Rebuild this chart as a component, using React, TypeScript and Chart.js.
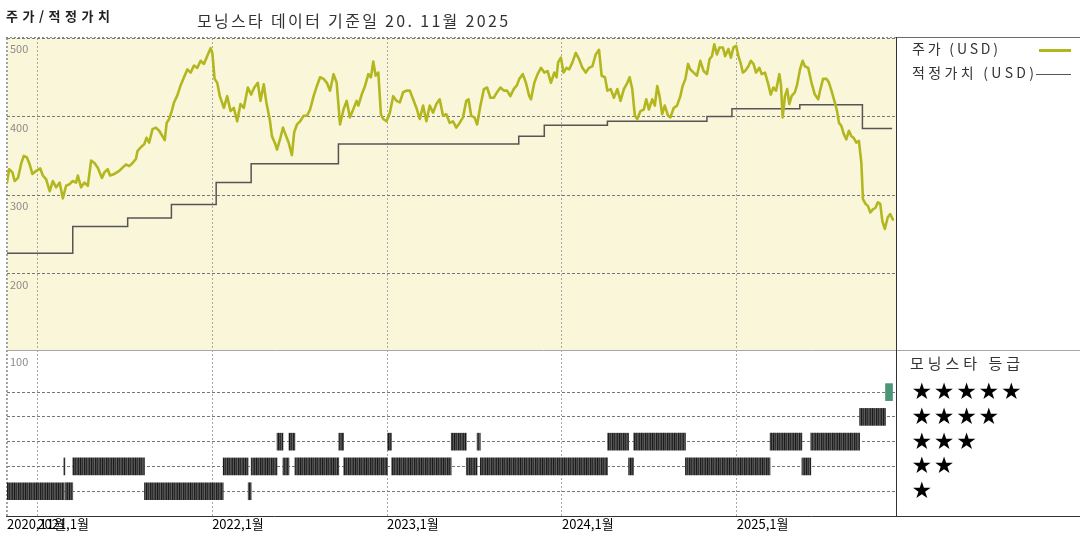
import React, { useEffect, useRef } from 'react';
import { Chart, registerables } from 'chart.js';

Chart.register(...registerables);

// ---------- axes ----------
const X_MIN = 2020.827;
const X_MAX = 2025.91;
const PRICE_MIN = 103;
const PRICE_MAX = 500;
const RATING_MIN = 0;
const RATING_MAX = 6.7;

const xTickValues = [2020.827, 2021, 2022, 2023, 2024, 2025];
const xTickLabels = ['2020,11월', '2021,1월', '2022,1월', '2023,1월', '2024,1월', '2025,1월'];
const priceTickValues = [200, 300, 400, 500];
const ratingRowValues = [1, 2, 3, 4, 5];
const ratingTopLabel = '100';

// ---------- texts ----------
const titleLeft = '주가/적정가치';
const titleMain = '모닝스타 데이터 기준일 20. 11월 2025';
const legendPrice = '주가 (USD)';
const legendFair = '적정가치 (USD)';
const ratingTitle = '모닝스타 등급';

// ---------- price (USD) ----------
const priceDates = [
  2020.827, 2020.839, 2020.858, 2020.871, 2020.890, 2020.909, 2020.923, 2020.941, 2020.957, 2020.972,
  2020.994, 2021.017, 2021.032, 2021.051, 2021.071, 2021.089, 2021.108, 2021.128, 2021.146, 2021.165,
  2021.185, 2021.203, 2021.222, 2021.232, 2021.251, 2021.270, 2021.289, 2021.308, 2021.327, 2021.346,
  2021.370, 2021.384, 2021.403, 2021.416, 2021.441, 2021.469, 2021.488, 2021.507, 2021.526, 2021.545,
  2021.564, 2021.573, 2021.592, 2021.612, 2021.625, 2021.640, 2021.659, 2021.678, 2021.697, 2021.716,
  2021.729, 2021.740, 2021.754, 2021.769, 2021.782, 2021.801, 2021.820, 2021.839, 2021.858, 2021.877,
  2021.896, 2021.915, 2021.934, 2021.953, 2021.972, 2021.991, 2022.001, 2022.014, 2022.029, 2022.044,
  2022.067, 2022.086, 2022.105, 2022.124, 2022.143, 2022.162, 2022.181, 2022.204, 2022.223, 2022.241,
  2022.261, 2022.276, 2022.295, 2022.310, 2022.329, 2022.342, 2022.361, 2022.371, 2022.390, 2022.405,
  2022.418, 2022.437, 2022.456, 2022.469, 2022.485, 2022.503, 2022.523, 2022.542, 2022.560, 2022.580,
  2022.599, 2022.617, 2022.637, 2022.656, 2022.674, 2022.694, 2022.712, 2022.731, 2022.751, 2022.769,
  2022.788, 2022.808, 2022.826, 2022.836, 2022.855, 2022.874, 2022.893, 2022.908, 2022.921, 2022.935,
  2022.950, 2022.965, 2022.978, 2022.997, 2023.016, 2023.035, 2023.054, 2023.073, 2023.092, 2023.111,
  2023.130, 2023.149, 2023.168, 2023.187, 2023.206, 2023.225, 2023.244, 2023.263, 2023.282, 2023.301,
  2023.320, 2023.339, 2023.358, 2023.377, 2023.396, 2023.415, 2023.434, 2023.453, 2023.466, 2023.481,
  2023.500, 2023.515, 2023.534, 2023.554, 2023.572, 2023.591, 2023.611, 2023.629, 2023.648, 2023.668,
  2023.686, 2023.705, 2023.724, 2023.743, 2023.756, 2023.776, 2023.794, 2023.813, 2023.823, 2023.842,
  2023.861, 2023.880, 2023.899, 2023.918, 2023.937, 2023.956, 2023.969, 2023.978, 2023.994, 2024.009,
  2024.026, 2024.041, 2024.060, 2024.079, 2024.098, 2024.117, 2024.136, 2024.155, 2024.174, 2024.193,
  2024.212, 2024.227, 2024.246, 2024.260, 2024.279, 2024.297, 2024.317, 2024.335, 2024.354, 2024.374,
  2024.387, 2024.402, 2024.417, 2024.431, 2024.449, 2024.468, 2024.482, 2024.497, 2024.516, 2024.531,
  2024.545, 2024.558, 2024.573, 2024.588, 2024.607, 2024.620, 2024.639, 2024.658, 2024.677, 2024.690,
  2024.706, 2024.721, 2024.734, 2024.753, 2024.772, 2024.791, 2024.810, 2024.829, 2024.844, 2024.858,
  2024.871, 2024.886, 2024.901, 2024.920, 2024.933, 2024.952, 2024.966, 2024.981, 2024.996, 2025.009,
  2025.023, 2025.034, 2025.047, 2025.066, 2025.080, 2025.095, 2025.110, 2025.129, 2025.142, 2025.161,
  2025.180, 2025.194, 2025.209, 2025.224, 2025.243, 2025.252, 2025.262, 2025.275, 2025.288, 2025.300,
  2025.313, 2025.332, 2025.345, 2025.361, 2025.376, 2025.389, 2025.408, 2025.427, 2025.446, 2025.465,
  2025.478, 2025.493, 2025.513, 2025.527, 2025.541, 2025.560, 2025.573, 2025.584, 2025.598, 2025.611,
  2025.626, 2025.641, 2025.655, 2025.668, 2025.683, 2025.698, 2025.712, 2025.721, 2025.736, 2025.750,
  2025.763, 2025.778, 2025.793, 2025.806, 2025.820, 2025.832, 2025.846, 2025.863, 2025.877, 2025.892,
];
const priceValues = [
  316, 333, 329, 318, 322, 341, 350, 348, 339, 327,
  331, 334, 325, 320, 305, 318, 310, 316, 296, 312,
  314, 318, 316, 325, 310, 316, 312, 344, 341, 335,
  322, 329, 333, 325, 327, 331, 335, 339, 337, 341,
  346, 356, 361, 365, 373, 367, 384, 386, 382, 375,
  370, 392, 397, 407, 418, 427, 440, 450, 460, 456,
  465, 462, 471, 467, 477, 487, 481, 448, 443, 426,
  411, 426, 407, 411, 394, 416, 411, 437, 428, 437,
  443, 420, 441, 418, 397, 375, 365, 358, 373, 386,
  378, 367, 351, 380, 390, 394, 401, 401, 409, 426,
  439, 450, 448, 443, 433, 454, 443, 390, 409, 420,
  399, 410, 420, 414, 428, 439, 454, 450, 470, 452,
  456, 403, 397, 394, 405, 426, 420, 418, 431, 433,
  433, 422, 411, 397, 414, 394, 414, 405, 416, 422,
  401, 403, 392, 394, 386, 392, 399, 420, 422, 401,
  399, 390, 414, 435, 437, 424, 424, 431, 437, 433,
  433, 426, 435, 440, 448, 454, 443, 426, 422, 443,
  454, 462, 456, 458, 443, 456, 450, 469, 475, 456,
  462, 460, 469, 481, 473, 462, 456, 462, 464, 479,
  485, 452, 450, 433, 435, 424, 435, 420, 435, 443,
  450, 435, 401, 397, 407, 409, 422, 409, 422, 414,
  439, 426, 403, 414, 401, 399, 411, 414, 426, 439,
  448, 467, 460, 456, 452, 471, 458, 454, 473, 477,
  492, 479, 488, 488, 477, 486, 475, 488, 490, 477,
  467, 456, 458, 464, 471, 467, 456, 462, 454, 456,
  441, 428, 437, 433, 454, 441, 399, 426, 435, 416,
  426, 431, 441, 460, 471, 464, 462, 443, 428, 422,
  435, 448, 448, 443, 433, 418, 407, 392, 388, 378,
  371, 382, 375, 373, 367, 369, 341, 295, 289, 286,
  278, 282, 284, 291, 289, 267, 257, 272, 276, 269,
];

// ---------- fair value (USD), step starts ----------
const fairDates = [
  2020.827, 2021.203, 2021.517, 2021.767, 2022.023, 2022.223, 2022.722, 2023.753,
  2023.899, 2024.260, 2024.829, 2024.972, 2025.360, 2025.718, 2025.888,
];
const fairValues = [226, 260, 271, 288, 316, 340, 365, 375, 389, 394, 400, 410, 415, 385, 385];

// ---------- Morningstar rating: change dates and star level per span ----------
const ratingDates = [
  2020.827, 2021.152, 2021.158, 2021.203, 2021.613, 2022.063, 2022.206, 2022.223, 2022.371, 2022.405,
  2022.439, 2022.473, 2022.724, 2022.752, 2023.003, 2023.026, 2023.367, 2023.453, 2023.515, 2023.533,
  2024.261, 2024.381, 2024.410, 2024.706, 2025.190, 2025.372, 2025.423, 2025.702, 2025.850, 2025.890,
];
const ratingLevels = [
  1, 2, 1, 2, 1, 2, 1, 2, 3, 2,
  3, 2, 3, 2, 3, 2, 3, 2, 3, 2,
  3, 2, 3, 2, 3, 2, 3, 4, 5,
];

// ---------- styles ----------
const FONT = '"Noto Sans CJK KR", "Noto Sans", "DejaVu Sans", sans-serif';
const PRICE_COLOR = '#b3b71f';
const FAIR_COLOR = '#555555';
const PANEL_BG = '#faf6da';
const FIVE_STAR_COLOR = '#4b9579';

function drawText(
  ctx: CanvasRenderingContext2D,
  text: string,
  x: number,
  y: number,
  font: string,
  color: string,
  width?: number
) {
  ctx.save();
  ctx.font = font;
  ctx.fillStyle = color;
  ctx.textAlign = 'left';
  ctx.textBaseline = 'middle';
  if (width) {
    const w = ctx.measureText(text).width;
    const n = Array.from(text).length;
    if (n > 1) (ctx as any).letterSpacing = ((width - w) / (n - 1)).toFixed(2) + 'px';
  }
  ctx.fillText(text, x, y);
  ctx.restore();
}

function hline(ctx: CanvasRenderingContext2D, x1: number, x2: number, y: number, color: string, w = 1, dash: number[] = []) {
  ctx.save();
  ctx.strokeStyle = color;
  ctx.lineWidth = w;
  ctx.setLineDash(dash);
  ctx.beginPath();
  const yy = Math.round(y) + (w % 2 ? 0.5 : 0);
  ctx.moveTo(x1, yy);
  ctx.lineTo(x2, yy);
  ctx.stroke();
  ctx.restore();
}

function vline(ctx: CanvasRenderingContext2D, x: number, y1: number, y2: number, color: string, w = 1, dash: number[] = []) {
  ctx.save();
  ctx.strokeStyle = color;
  ctx.lineWidth = w;
  ctx.setLineDash(dash);
  ctx.beginPath();
  const xx = Math.round(x) + (w % 2 ? 0.5 : 0);
  ctx.moveTo(xx, y1);
  ctx.lineTo(xx, y2);
  ctx.stroke();
  ctx.restore();
}

const decoPlugin = {
  id: 'deco',
  beforeDraw(chart: any) {
    const { ctx, chartArea } = chart;
    const ys = chart.scales.y;
    ctx.save();
    ctx.fillStyle = PANEL_BG;
    ctx.fillRect(chartArea.left, ys.top, chartArea.right - chartArea.left, ys.bottom - ys.top);
    ctx.restore();
  },
  afterDraw(chart: any) {
    const { ctx, chartArea, width } = chart;
    const { left, right, top, bottom } = chartArea;
    const y2 = chart.scales.y2;

    // frame
    vline(ctx, left - 1, top, bottom, '#9a9a9a', 1, [2, 2]);
    hline(ctx, left - 1, right, top - 1, '#8a8a8a', 1, [2, 2]);
    hline(ctx, right, width, top - 1, '#6a6a6a', 1);
    hline(ctx, left, width, y2.top, '#a8a8a8', 1);
    hline(ctx, left - 1, width, bottom, '#333333', 1);
    vline(ctx, right, top - 1, bottom, '#333333', 1);

    // header
    drawText(ctx, titleLeft, 6, 16, `bold 13px ${FONT}`, '#222', 104);
    drawText(ctx, titleMain, 197, 21, `16px ${FONT}`, '#333', 311);

    // legend
    const lx = right + 16;
    drawText(ctx, legendPrice, lx, 49, `14px ${FONT}`, '#333', 86);
    hline(ctx, right + 143, right + 175, 49.5, PRICE_COLOR, 3);
    drawText(ctx, legendFair, lx, 73, `14px ${FONT}`, '#333', 122);
    hline(ctx, right + 140, right + 175, 74, '#555', 1);

    // rating legend
    drawText(ctx, ratingTitle, right + 14, 363, `15px ${FONT}`, '#333', 110);
    ctx.save();
    ctx.font = '23px "DejaVu Sans", sans-serif';
    ctx.fillStyle = '#000';
    ctx.textAlign = 'center';
    ctx.textBaseline = 'middle';
    ratingRowValues.forEach((lv) => {
      const yy = y2.getPixelForValue(lv);
      for (let i = 0; i < lv; i++) {
        ctx.fillText('★', right + 25.7 + i * 22.4, yy + 1);
      }
    });
    ctx.restore();
  },
};

function makeStripePattern(target: CanvasRenderingContext2D): CanvasPattern | string {
  const c = document.createElement('canvas');
  const shades = ['#444444', '#262626', '#565656', '#1a1a1a', '#4c4c4c', '#333333', '#5e5e5e', '#202020', '#484848', '#2e2e2e', '#525252'];
  c.width = shades.length;
  c.height = 1;
  const g = c.getContext('2d');
  if (!g) return '#444';
  shades.forEach((s, i) => {
    g.fillStyle = s;
    g.fillRect(i, 0, 1, 1);
  });
  return target.createPattern(c, 'repeat') || '#444';
}

export default function App() {
  const canvasRef = useRef<HTMLCanvasElement>(null);

  useEffect(() => {
    const canvas = canvasRef.current;
    if (!canvas) return;
    const ctx2d = canvas.getContext('2d') as CanvasRenderingContext2D;
    const stripes = makeStripePattern(ctx2d);

    const priceData = priceDates.map((d, i) => ({ x: d, y: priceValues[i] }));
    const fairData = fairDates.map((d, i) => ({ x: d, y: fairValues[i] }));
    const ratingData = ratingLevels.map((lv, i) => ({ x: [ratingDates[i], ratingDates[i + 1]], y: lv }));

    const chart = new Chart(canvas, {
      data: {
        datasets: [
          {
            type: 'line',
            label: legendPrice,
            data: priceData,
            xAxisID: 'x',
            yAxisID: 'y',
            borderColor: PRICE_COLOR,
            borderWidth: 2.6,
            borderJoinStyle: 'round',
            borderCapStyle: 'round',
            pointRadius: 0,
            tension: 0,
            order: 0,
          },
          {
            type: 'line',
            label: legendFair,
            data: fairData,
            xAxisID: 'x',
            yAxisID: 'y',
            stepped: 'before',
            borderColor: FAIR_COLOR,
            borderWidth: 1.5,
            pointRadius: 0,
            order: 1,
          },
          {
            type: 'bar',
            label: ratingTitle,
            data: ratingData,
            indexAxis: 'y',
            xAxisID: 'x',
            yAxisID: 'y2',
            barThickness: 17,
            borderWidth: 0,
            backgroundColor: (c: any) => (c.raw && c.raw.y === 5 ? FIVE_STAR_COLOR : stripes),
            order: 2,
          },
        ],
      } as any,
      options: {
        responsive: false,
        animation: false,
        devicePixelRatio: 1,
        events: [],
        layout: { padding: { left: 1, right: 184, top: 38, bottom: 8.4 } },
        plugins: {
          legend: { display: false },
          tooltip: { enabled: false },
          title: { display: false },
        },
        scales: {
          x: {
            type: 'linear',
            position: 'bottom',
            min: X_MIN,
            max: X_MAX,
            offset: false,
            beginAtZero: false,
            afterBuildTicks: (s: any) => {
              s.ticks = xTickValues.map((v) => ({ value: v }));
            },
            ticks: {
              autoSkip: false,
              maxRotation: 0,
              minRotation: 0,
              align: 'start',
              padding: 0,
              color: '#000',
              font: { family: FONT, size: 13 },
              callback: (_v: any, i: number) => xTickLabels[i] ?? '',
            },
            grid: { color: '#a8a8a8', drawTicks: false, lineWidth: 1, offset: false },
            border: { display: false, dash: [2, 2] },
          },
          y: {
            type: 'linear',
            axis: 'y',
            position: 'left',
            stack: 'main',
            stackWeight: 312,
            weight: 2,
            min: PRICE_MIN,
            max: PRICE_MAX,
            afterBuildTicks: (s: any) => {
              s.ticks = priceTickValues.map((v) => ({ value: v }));
            },
            ticks: {
              mirror: true,
              padding: 3,
              labelOffset: 11,
              color: '#8c8c8c',
              font: { family: FONT, size: 11 },
              callback: (v: any) => String(v),
            },
            grid: { color: '#777', drawTicks: false, lineWidth: 1 },
            border: { display: false, dash: [3, 2] },
          },
          y2: {
            type: 'linear',
            axis: 'y',
            position: 'left',
            stack: 'main',
            stackWeight: 166,
            weight: 1,
            min: RATING_MIN,
            max: RATING_MAX,
            offset: false,
            beginAtZero: false,
            afterBuildTicks: (s: any) => {
              s.ticks = [...ratingRowValues, RATING_MAX].map((v) => ({ value: v }));
            },
            ticks: {
              mirror: true,
              padding: 3,
              labelOffset: 12,
              color: '#8c8c8c',
              font: { family: FONT, size: 11 },
              callback: (v: any) => (v === RATING_MAX ? ratingTopLabel : ''),
            },
            grid: {
              color: (c: any) => (c.tick && c.tick.value === RATING_MAX ? 'rgba(0,0,0,0)' : '#777'),
              drawTicks: false,
              lineWidth: 1,
              offset: false,
            },
            border: { display: false, dash: [3, 2] },
          },
        },
      } as any,
      plugins: [decoPlugin],
    });

    return () => chart.destroy();
  }, []);

  return (
    <div style={{ position: 'absolute', left: 0, top: 0, width: 1080, height: 540, background: '#fff' }}>
      <canvas ref={canvasRef} width={1080} height={540} style={{ display: 'block', width: 1080, height: 540 }} />
    </div>
  );
}
